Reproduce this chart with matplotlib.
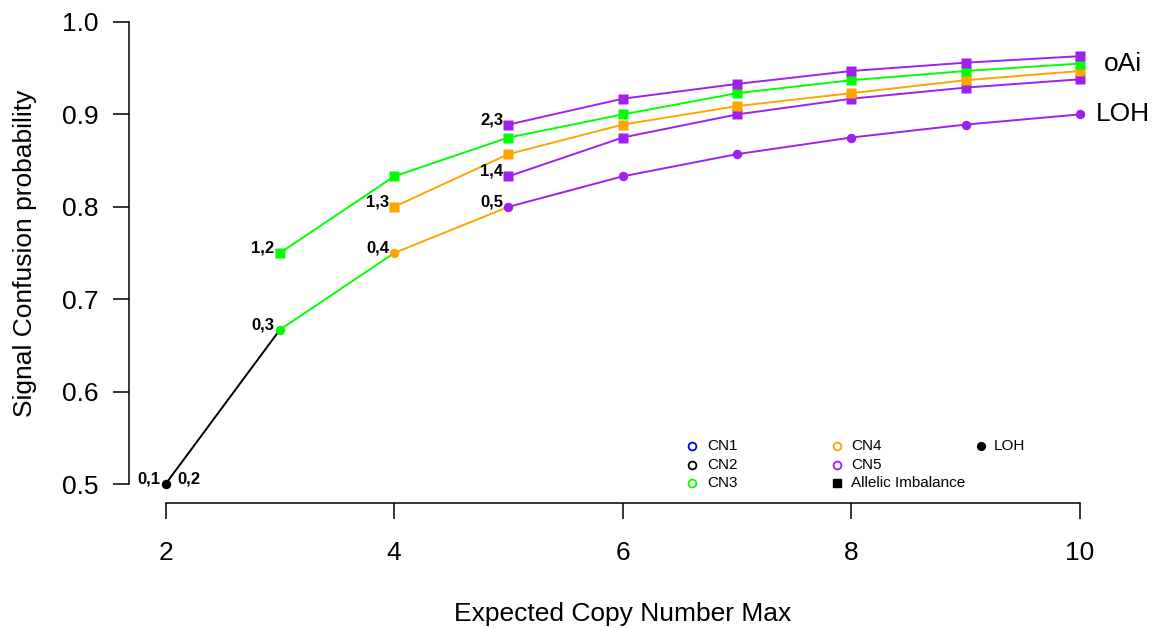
import matplotlib
matplotlib.use("Agg")
import matplotlib.pyplot as plt

plt.rcParams['font.family'] = ['Liberation Sans', 'DejaVu Sans']

# colours follow the copy-number state of each point
CN_COLORS = {1: '#0000FF', 2: '#000000', 3: '#00FF00', 4: '#FFA500', 5: '#A020F0'}

# LOH series (filled circles), one point per max copy number
loh_x = [2, 3, 4, 5, 6, 7, 8, 9, 10]
loh_y = [0.5, 0.667, 0.75, 0.8, 0.833, 0.857, 0.875, 0.889, 0.9]
loh_cn = [2, 3, 4, 5, 5, 5, 5, 5, 5]

# allelic imbalance series (filled squares)
ai_12_x = [3, 4, 5, 6, 7, 8, 9, 10]
ai_12_y = [0.75, 0.833, 0.875, 0.9, 0.923, 0.937, 0.947, 0.955]
ai_13_x = [4, 5, 6, 7, 8, 9, 10]
ai_13_y = [0.8, 0.857, 0.889, 0.909, 0.923, 0.937, 0.947]
ai_23_x = [5, 6, 7, 8, 9, 10]
ai_23_y = [0.889, 0.917, 0.933, 0.947, 0.956, 0.963]
ai_14_x = [5, 6, 7, 8, 9, 10]
ai_14_y = [0.833, 0.875, 0.9, 0.917, 0.929, 0.938]

# genotype labels written next to the first point of each state
label_text = ['0,1', '0,3', '0,4', '0,5', '1,2', '1,3', '2,3', '1,4']
label_x = [2, 3, 4, 5, 3, 4, 5, 5]
label_y = [0.5, 0.667, 0.75, 0.8, 0.75, 0.8, 0.889, 0.833]

legend_labels = ['CN1', 'CN2', 'CN3', 'CN4', 'CN5']

fig = plt.figure(figsize=(11.55, 6.28), dpi=100)
ax = fig.add_axes([0.1117, 0.1998, 0.855, 0.7946])

LW = 1.4
MS_C = 6.8
MS_S = 7.0

# LOH line: each segment takes the colour of the point it starts from
for i in range(len(loh_x) - 1):
    ax.plot(loh_x[i:i + 2], loh_y[i:i + 2], color=CN_COLORS[loh_cn[i]], lw=LW, zorder=2)
for x, y, cn in zip(loh_x, loh_y, loh_cn):
    ax.plot(x, y, 'o', color=CN_COLORS[cn], ms=MS_C, mec='none', zorder=3)

for xs, ys, cn in [(ai_14_x, ai_14_y, 5), (ai_13_x, ai_13_y, 4),
                   (ai_12_x, ai_12_y, 3), (ai_23_x, ai_23_y, 5)]:
    ax.plot(xs, ys, color=CN_COLORS[cn], lw=LW, marker='s', ms=MS_S, mec='none', zorder=3)

for t, x, y in zip(label_text, label_x, label_y):
    ax.annotate(t, (x, y), xytext=(-3.8, 3.6), textcoords='offset points',
                ha='right', va='center', fontsize=12, fontweight='bold')
ax.annotate('0,2', (loh_x[0], loh_y[0]), xytext=(8.4, 3.6), textcoords='offset points',
            ha='left', va='center', fontsize=12, fontweight='bold')

ax.text(10.376, 0.955, 'oAi', ha='center', va='center', fontsize=19, clip_on=False)
ax.text(10.376, 0.9, 'LOH', ha='center', va='center', fontsize=19, clip_on=False)

# legend drawn by hand so the three columns are evenly spaced
col_mk = [0.570, 0.7166, 0.8624]
col_tx = [0.586, 0.731, 0.876]
rows = [0.1138, 0.0758, 0.0385]
for i, lab in enumerate(legend_labels):
    c, r = divmod(i, 3)
    ax.plot(col_mk[c], rows[r], 'o', transform=ax.transAxes, ms=5.6, mfc='none',
            mec=CN_COLORS[i + 1], mew=1.3, clip_on=False)
    ax.text(col_tx[c], rows[r], lab, transform=ax.transAxes, ha='left', va='center', fontsize=11)
ax.plot(col_mk[1], rows[2], 's', transform=ax.transAxes, ms=5.2, color='black', clip_on=False)
ax.text(col_tx[1], rows[2], 'Allelic Imbalance', transform=ax.transAxes,
        ha='left', va='center', fontsize=11)
ax.plot(col_mk[2], rows[0], 'o', transform=ax.transAxes, ms=5.6, color='black', clip_on=False)
ax.text(col_tx[2], rows[0], 'LOH', transform=ax.transAxes, ha='left', va='center', fontsize=11)

ax.set_xlim(1.68, 10.32)
ax.set_ylim(0.48, 1.02)
ax.set_xticks([2, 4, 6, 8, 10])
ax.set_yticks([0.5, 0.6, 0.7, 0.8, 0.9, 1.0])
ax.set_yticklabels(['0.5', '0.6', '0.7', '0.8', '0.9', '1.0'])

for side in ['top', 'right']:
    ax.spines[side].set_visible(False)
ax.spines['left'].set_bounds(0.5, 1.0)
ax.spines['bottom'].set_bounds(2, 10)
ax.spines['left'].set_linewidth(1.1)
ax.spines['bottom'].set_linewidth(1.1)
ax.tick_params(axis='both', direction='out', length=11.2, width=1.1, labelsize=19)
ax.tick_params(axis='x', pad=16.5)
ax.tick_params(axis='y', pad=11)

ax.set_xlabel('Expected Copy Number Max', fontsize=19, labelpad=27)
ax.set_ylabel('Signal Confusion probability', fontsize=19, labelpad=18)

fig.savefig('out.png', dpi=100)
